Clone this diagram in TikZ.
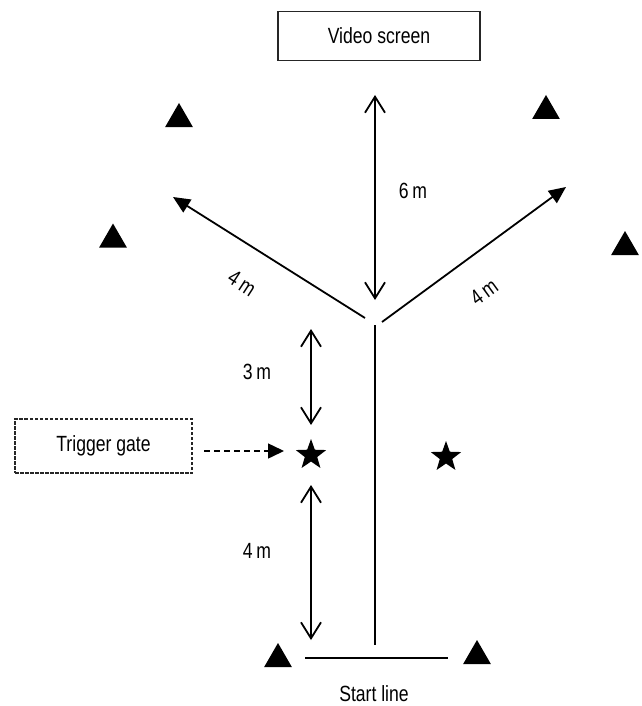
\documentclass[tikz,border=0pt]{standalone}
\usepackage{fontspec}
\setmainfont[FakeStretch=0.8]{Liberation Sans}
\usetikzlibrary{arrows.meta,shapes.geometric}

\tikzset{
  lbl/.style={font=\fontsize{22}{24}\selectfont, inner sep=0pt},
  box/.style={draw=black!85, line width=1.4pt, minimum width=202pt, minimum height=49pt, font=\fontsize{22}{24}\selectfont},
  gatebox/.style={draw=black!85, line width=1.2pt, dash pattern=on 3.5pt off 1.5pt, minimum width=177pt, minimum height=54pt, font=\fontsize{22}{24}\selectfont},
  cone/.style={regular polygon, regular polygon sides=3, fill=black, inner sep=0pt, minimum size=32pt},
  mark star/.style={star, star points=5, star point ratio=2.45, fill=black, inner sep=0pt, minimum size=32pt},
  line/.style={line width=1.8pt},
  dimarrow/.style={line width=1.8pt, {Straight Barb[length=16pt,width=20pt,line width=1.8pt]}-{Straight Barb[length=16pt,width=20pt,line width=1.8pt]}},
  dirarrow/.style={line width=1.8pt, -{Triangle[length=17pt,width=15pt]}},
  gatearrow/.style={line width=1.5pt, dash pattern=on 6pt off 4pt, -{Triangle[length=16pt,width=15pt]}},
}

\begin{document}
\begin{tikzpicture}[x=1pt, y=-1pt]
  \useasboundingbox (0,0) rectangle (641,706);

  % screen and trigger gate
  \node[box] (screen) at (379,36) {Video screen};
  \node[gatebox] (gate) at (103.5,446) {Trigger gate};

  % cones
  \node[cone] (c1) at (179,119) {};
  \node[cone] (c2) at (113,239.5) {};
  \node[cone] (c3) at (546,111) {};
  \node[cone] (c4) at (625,247) {};
  \node[cone] (c5) at (278,659) {};
  \node[cone] (c6) at (477,656) {};

  % stars
  \node[mark star] (s1) at (311,455) {};
  \node[mark star] (s2) at (446,457) {};

  % key points
  \coordinate (sixtop) at (375,95);
  \coordinate (sixbot) at (375,300);
  \coordinate (lstart) at (365,318);
  \coordinate (ltip) at (173,197);
  \coordinate (rstart) at (382,322);
  \coordinate (rtip) at (566,187);
  \coordinate (stemtop) at (375,325);
  \coordinate (stembot) at (375,645);
  \coordinate (startl) at (305,658);
  \coordinate (startr) at (448,658);
  \coordinate (threetop) at (311,329);
  \coordinate (threebot) at (311,425);
  \coordinate (fourtop) at (311,485);
  \coordinate (fourbot) at (311,640);
  \coordinate (gateout) at (204,451);
  \coordinate (gatein) at (284,451);

  % run lanes and distances
  \draw[dimarrow] (sixtop) -- (sixbot);
  \draw[dirarrow] (lstart) -- (ltip);
  \draw[dirarrow] (rstart) -- (rtip);
  \draw[line] (stemtop) -- (stembot);
  \draw[line] (startl) -- (startr);
  \draw[dimarrow] (threetop) -- (threebot);
  \draw[dimarrow] (fourtop) -- (fourbot);
  \draw[gatearrow] (gateout) -- (gatein);

  % labels
  \node[lbl] (l6) at (413,191) {6\,m};
  \node[lbl] (l3) at (257,372) {3\,m};
  \node[lbl] (l4) at (257,551) {4\,m};
  \node[lbl, rotate=-33] (l4l) at (242,283) {4\,m};
  \node[lbl, rotate=36] (l4r) at (484,292) {4\,m};
  \node[lbl] (lstartline) at (374,694) {Start line};
\end{tikzpicture}
\end{document}
